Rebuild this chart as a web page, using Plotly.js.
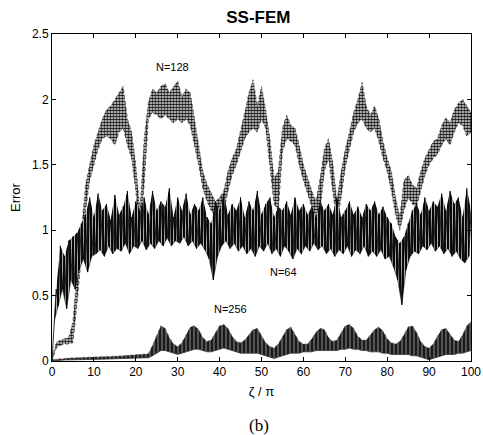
<!DOCTYPE html>
<html>
<head>
<meta charset="utf-8">
<script src="https://cdn.plot.ly/plotly-3.0.1.min.js"></script>
<style>
html,body{margin:0;padding:0;background:#fff;}
#chart{width:483px;height:435px;}
</style>
</head>
<body>
<div id="chart"></div>
<script>
// x grid (zeta / pi) for the envelope arrays, 0..100 step 1
const xGrid = [0,1,2,3,4,5,6,7,8,9,10,11,12,13,14,15,16,17,18,19,20,21,22,23,24,25,26,27,28,29,30,31,32,33,34,35,36,37,38,39,40,41,42,43,44,45,46,47,48,49,50,51,52,53,54,55,56,57,58,59,60,61,62,63,64,65,66,67,68,69,70,71,72,73,74,75,76,77,78,79,80,81,82,83,84,85,86,87,88,89,90,91,92,93,94,95,96,97,98,99,100];

// N=128 : upper and lower edge of the band
const n128Hi = [0.02,0.14,0.16,0.17,0.18,0.30,0.70,0.98,1.35,1.50,1.65,1.75,1.85,1.92,1.95,2.00,2.05,2.10,1.85,1.75,1.50,1.15,1.70,1.98,2.08,2.05,2.10,2.12,2.05,2.10,2.14,2.02,2.08,2.05,1.85,1.65,1.45,1.35,1.28,1.22,1.25,1.30,1.45,1.55,1.62,1.75,1.90,2.05,2.15,1.95,2.10,1.92,1.70,1.40,1.45,1.78,1.88,1.80,1.78,1.65,1.50,1.40,1.30,1.22,1.40,1.62,1.70,1.52,1.22,1.45,1.62,1.75,1.90,2.00,2.13,1.95,1.88,1.95,1.85,1.68,1.55,1.45,1.25,1.10,1.38,1.42,1.35,1.32,1.45,1.55,1.62,1.68,1.70,1.80,1.86,1.82,1.92,1.97,2.00,1.95,1.90];
const n128Lo = [0.00,0.10,0.12,0.13,0.13,0.14,0.45,0.80,1.15,1.38,1.50,1.62,1.70,1.72,1.70,1.65,1.75,1.78,1.65,1.55,1.30,0.98,1.35,1.85,1.90,1.88,1.85,1.88,1.85,1.82,1.85,1.82,1.85,1.80,1.65,1.50,1.32,1.22,1.15,1.10,1.10,1.15,1.30,1.42,1.50,1.60,1.70,1.75,1.78,1.75,1.85,1.78,1.50,1.20,1.15,1.60,1.70,1.68,1.65,1.50,1.38,1.28,1.18,1.10,1.15,1.45,1.55,1.30,1.05,1.25,1.48,1.62,1.75,1.82,1.85,1.78,1.75,1.78,1.68,1.55,1.45,1.30,1.12,1.00,1.15,1.25,1.20,1.18,1.30,1.42,1.50,1.55,1.58,1.65,1.70,1.65,1.75,1.82,1.80,1.72,1.75];

// N=256 : upper and lower edge of the band
const n256Hi = [0.010,0.015,0.020,0.020,0.022,0.025,0.025,0.027,0.028,0.030,0.030,0.032,0.033,0.034,0.035,0.037,0.038,0.040,0.042,0.044,0.046,0.048,0.050,0.055,0.12,0.20,0.27,0.25,0.18,0.13,0.11,0.14,0.20,0.26,0.27,0.24,0.18,0.15,0.16,0.22,0.27,0.28,0.25,0.19,0.15,0.14,0.16,0.20,0.24,0.25,0.20,0.14,0.11,0.10,0.13,0.18,0.24,0.26,0.21,0.15,0.13,0.13,0.17,0.22,0.25,0.24,0.18,0.15,0.16,0.22,0.27,0.28,0.25,0.19,0.16,0.16,0.20,0.24,0.26,0.23,0.17,0.14,0.13,0.15,0.20,0.26,0.27,0.22,0.15,0.11,0.10,0.13,0.19,0.24,0.25,0.20,0.16,0.15,0.20,0.27,0.30];
const n256Lo = [0.000,0.005,0.005,0.008,0.008,0.010,0.010,0.010,0.012,0.012,0.013,0.013,0.014,0.015,0.015,0.016,0.017,0.018,0.019,0.020,0.021,0.022,0.023,0.025,0.04,0.06,0.08,0.08,0.07,0.06,0.05,0.06,0.07,0.08,0.09,0.09,0.08,0.07,0.07,0.08,0.09,0.10,0.09,0.08,0.07,0.06,0.06,0.06,0.06,0.06,0.05,0.04,0.03,0.02,0.03,0.04,0.05,0.06,0.06,0.06,0.07,0.07,0.07,0.08,0.08,0.08,0.08,0.08,0.08,0.09,0.09,0.10,0.09,0.09,0.08,0.08,0.07,0.07,0.07,0.06,0.06,0.05,0.05,0.05,0.05,0.05,0.04,0.04,0.03,0.02,0.01,0.02,0.03,0.04,0.05,0.05,0.05,0.06,0.06,0.07,0.08];

// N=64 : spike tops at x = 0,1,...,100 and spike bottoms at x = 0.5,1.5,...,99.5
const n64Hi = [0.00,0.55,0.88,0.80,0.92,0.95,0.98,1.05,1.12,1.25,1.10,1.28,1.15,1.20,1.08,1.27,1.12,1.18,1.30,1.10,1.22,1.15,1.25,1.12,1.30,1.15,1.22,1.18,1.32,1.10,1.25,1.15,1.28,1.12,1.20,1.15,1.25,1.10,1.05,1.22,1.15,1.28,1.12,1.20,1.15,1.25,1.10,1.22,1.15,1.30,1.12,1.20,1.25,1.10,1.18,1.15,1.22,1.12,1.25,1.15,1.20,1.12,1.18,1.10,1.22,1.15,1.20,1.12,1.25,1.10,1.15,1.22,1.12,1.18,1.10,1.20,1.15,1.22,1.12,1.18,1.10,1.05,0.95,0.90,0.95,1.05,1.15,1.20,1.12,1.25,1.15,1.22,1.18,1.28,1.15,1.30,1.20,1.25,1.10,1.32,1.15];
const n64Lo = [0.30,0.42,0.55,0.40,0.62,0.55,0.70,0.78,0.68,0.80,0.82,0.85,0.80,0.88,0.82,0.86,0.84,0.90,0.82,0.88,0.86,0.92,0.85,0.90,0.86,0.92,0.88,0.94,0.88,0.92,0.90,0.95,0.88,0.92,0.86,0.90,0.85,0.78,0.62,0.80,0.88,0.92,0.86,0.90,0.84,0.88,0.82,0.86,0.80,0.88,0.84,0.90,0.82,0.86,0.80,0.88,0.84,0.78,0.86,0.82,0.88,0.84,0.90,0.85,0.88,0.82,0.86,0.80,0.85,0.82,0.88,0.80,0.85,0.82,0.88,0.80,0.84,0.80,0.85,0.78,0.80,0.72,0.62,0.43,0.70,0.80,0.84,0.82,0.88,0.85,0.90,0.84,0.88,0.82,0.86,0.80,0.84,0.78,0.75,0.80];

const xTicks = [0,10,20,30,40,50,60,70,80,90,100];
const yTicks = [0,0.5,1,1.5,2,2.5];
const seriesLabels = ['N=128','N=64','N=256'];
const labelX = [28.7,55.3,42.6];
const labelY = [2.25,0.68,0.40];

// interleave N=64 tops and bottoms into one jagged trace
const n64X = [], n64Y = [];
for (let i = 0; i < n64Hi.length; i++) {
  n64X.push(xGrid[i]); n64Y.push(n64Hi[i]);
  if (i < n64Lo.length) { n64X.push(xGrid[i] + 0.5); n64Y.push(n64Lo[i]); }
}
const n64LoX = n64Lo.map((v, i) => xGrid[i] + 0.5);

const font = 'Liberation Sans, Arial, sans-serif';

const traces = [
  {x: xGrid, y: n256Lo, mode: 'lines', line: {color: '#333', width: 0.8}, hoverinfo: 'skip'},
  {x: xGrid, y: n256Hi, mode: 'lines', line: {color: '#666', width: 0.8, dash: 'dot'}, fill: 'tonexty',
   fillcolor: '#222', fillpattern: {shape: '|', fgcolor: '#aaa', bgcolor: '#1a1a1a', size: 4, solidity: 0.2}, hoverinfo: 'skip'},
  {x: xGrid, y: n128Lo, mode: 'lines', line: {color: '#444', width: 0.8, dash: 'dot'}, hoverinfo: 'skip'},
  {x: xGrid, y: n128Hi, mode: 'lines', line: {color: '#555', width: 0.8, dash: 'dot'}, fill: 'tonexty',
   fillcolor: '#777', fillpattern: {shape: '.', fgcolor: '#111', bgcolor: '#eee', size: 3, solidity: 0.65}, hoverinfo: 'skip'},
  {x: n64LoX, y: n64Lo, mode: 'lines', line: {color: '#111', width: 0.5}, hoverinfo: 'skip'},
  {x: xGrid, y: n64Hi, mode: 'lines', line: {color: 'rgba(0,0,0,0)', width: 0}, fill: 'tonexty',
   fillcolor: '#111', fillpattern: {shape: '|', fgcolor: '#ccc', bgcolor: '#111', size: 3, solidity: 0.28}, hoverinfo: 'skip'},
  {x: n64X, y: n64Y, mode: 'lines', line: {color: '#000', width: 0.8}, hoverinfo: 'skip'}
];

const annotations = seriesLabels.map((t, i) => ({
  x: labelX[i], y: labelY[i], xref: 'x', yref: 'y', text: t, showarrow: false,
  font: {family: font, size: 11, color: '#000'}
}));
annotations.push({
  x: 0.495, y: -0.196, xref: 'paper', yref: 'paper', yanchor: 'middle', text: '(b)', showarrow: false,
  font: {family: 'Liberation Serif, Times New Roman, serif', size: 17, color: '#000'}
});

const layout = {
  width: 483, height: 435,
  margin: {l: 52, r: 12, t: 34, b: 74},
  paper_bgcolor: '#fff', plot_bgcolor: '#fff',
  showlegend: false,
  title: {text: '<b>SS-FEM</b>', font: {family: font, size: 17, color: '#000'},
          x: 0.535, xref: 'container', y: 0.961, yref: 'container', yanchor: 'middle'},
  xaxis: {
    range: [0, 100], tickvals: xTicks, ticktext: xTicks.map(String),
    ticks: 'inside', ticklen: 4, tickcolor: '#000', showline: true, linecolor: '#000', linewidth: 1,
    mirror: 'ticks', showgrid: false, zeroline: false,
    tickfont: {family: font, size: 12, color: '#000'},
    title: {text: 'ζ / π', font: {family: font, size: 13, color: '#000'}, standoff: 8}
  },
  yaxis: {
    range: [0, 2.5], tickvals: yTicks, ticktext: ['0','0.5','1','1.5','2','2.5'],
    ticks: 'inside', ticklen: 4, tickcolor: '#000', showline: true, linecolor: '#000', linewidth: 1,
    mirror: 'ticks', showgrid: false, zeroline: false,
    tickfont: {family: font, size: 12, color: '#000'},
    title: {text: 'Error', font: {family: font, size: 13, color: '#000'}, standoff: 8}
  },
  annotations: annotations
};

Plotly.newPlot('chart', traces, layout, {displayModeBar: false, staticPlot: true});
</script>
</body>
</html>
